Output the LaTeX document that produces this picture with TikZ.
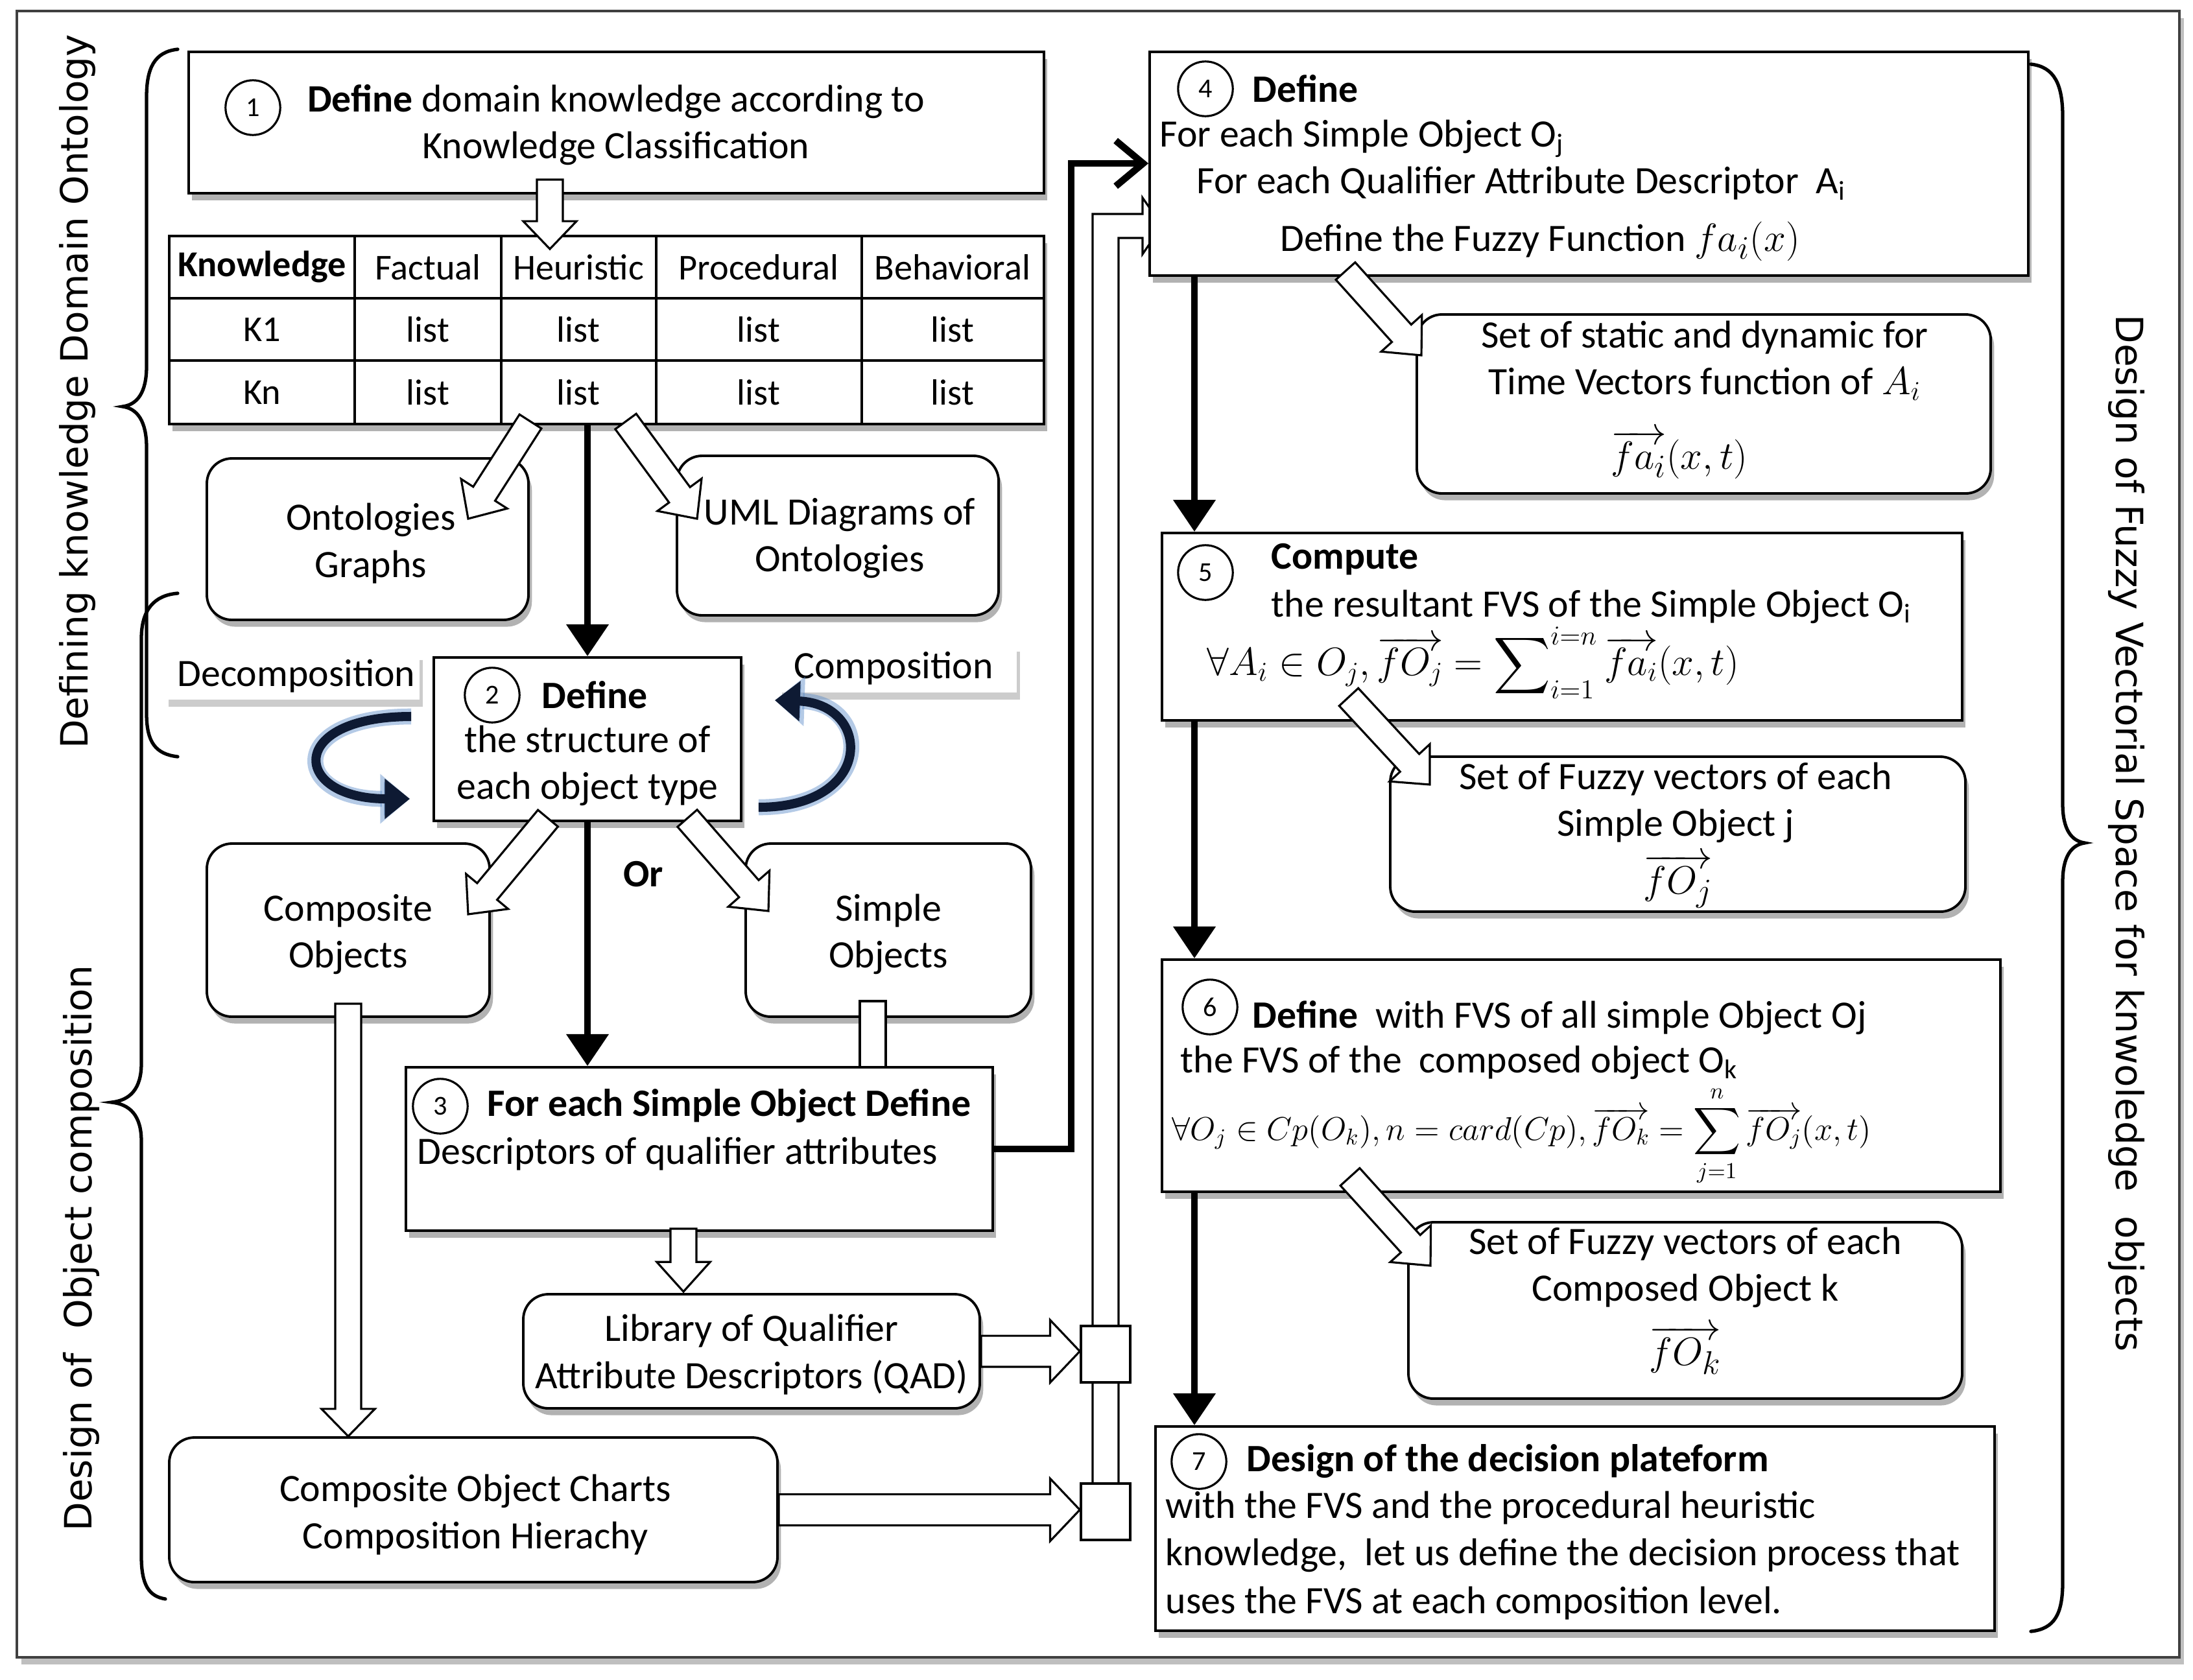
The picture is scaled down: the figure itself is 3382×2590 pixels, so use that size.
\documentclass[tikz,border=0pt]{standalone}
\usepackage{exscale}
\usepackage{fontspec}
\setmainfont{Carlito}
\newfontfamily\sidefont{DejaVu Sans}
\usetikzlibrary{arrows.meta,shadows,fit,calc}
\definecolor{navy}{HTML}{0E1A33}
\definecolor{glowc}{HTML}{5A8BC9}
\newcommand\msz{\fontsize{17}{20.5}\selectfont}
\newcommand\tsz{\fontsize{16}{19}\selectfont}
\newcommand\ssz{\sidefont\fontsize{16.5}{20}\selectfont}
% hollow (outlined) arrow between two named coordinates
\newcommand{\harrow}[5]{%
  \draw[hollow] let \p1=(#1), \p2=(#2), \p3=($(#2)!#5!(#1)$), \n1={atan2(\y2-\y1,\x2-\x1)} in
   ($(\p1)+(\n1-90:#3)$) -- ($(\p3)+(\n1-90:#3)$) -- ($(\p3)+(\n1-90:#4)$) -- (\p2)
   -- ($(\p3)+(\n1+90:#4)$) -- ($(\p3)+(\n1+90:#3)$) -- ($(\p1)+(\n1+90:#3)$) -- cycle;}
\tikzset{
  sq/.style={draw=black, line width=1.1pt, fill=white, inner sep=0pt,
     drop shadow={shadow xshift=1.5pt, shadow yshift=-3pt, opacity=0.3, fill=black}},
  rbox/.style={sq, rounded corners=11pt},
  lbl/.style={fill=white, inner sep=0pt,
     drop shadow={shadow xshift=1.5pt, shadow yshift=-3pt, opacity=0.2, fill=black}},
  txt/.style={inner sep=0pt, font=\msz, align=center, text=black},
  ttxt/.style={inner sep=0pt, font=\tsz, align=center, text=black},
  ltxt/.style={inner sep=0pt, font=\msz, align=left, anchor=west, text=black},
  num/.style={circle, draw=black, line width=0.9pt, minimum size=24pt, inner sep=0pt,
     fill=white, font=\fontsize{12}{12}\selectfont},
  tarrow/.style={line width=3pt, -{Triangle[length=14pt,width=18pt]}},
  barb/.style={line width=3pt, -{Straight Barb[length=12pt,width=20pt]}},
  hollow/.style={draw=black, line width=0.9pt, fill=white, line join=miter},
  bracel/.style={line width=1.5pt, line cap=round},
  curvarrow/.style={line width=4pt, draw=navy, -{Triangle[length=11pt,width=17pt]}},
  glowarrow/.style={line width=7pt, draw=glowc, opacity=0.45, -{Triangle[length=13pt,width=21pt]}},
  sidetxt/.style={inner sep=0pt, font=\ssz},
  outerframe/.style={draw=black!75, line width=1.3pt, inner sep=0pt, fill=white,
     drop shadow={shadow xshift=2pt, shadow yshift=-3pt, opacity=0.25, fill=black}},
}
\begin{document}
\begin{tikzpicture}[x=0.01cm,y=-0.01cm]
\useasboundingbox (0,0) rectangle (3382,2590);
\fill[white] (0,0) rectangle (3382,2590);
\node[outerframe, fit={(26,17)(3361,2556)}] (fr) {};

% ---------- braces and side labels ----------
\draw[bracel] (274,76) .. controls (238,80) and (226,105) .. (226,150) -- (226,565)
  .. controls (226,605) and (212,624) .. (189,627) .. controls (212,630) and (226,650) .. (226,690)
  -- (226,1100) .. controls (226,1145) and (240,1163) .. (274,1167);
\draw[bracel] (274,915) .. controls (238,918) and (218,940) .. (218,985) -- (218,1640)
  .. controls (218,1680) and (200,1697) .. (172,1700) .. controls (200,1703) and (218,1720) .. (218,1760)
  -- (218,2400) .. controls (218,2445) and (230,2462) .. (255,2466);
\draw[bracel] (3132,99) .. controls (3168,103) and (3181,130) .. (3181,180) -- (3181,1240)
  .. controls (3181,1280) and (3195,1297) .. (3215,1300) .. controls (3195,1303) and (3181,1320) .. (3181,1360)
  -- (3181,2440) .. controls (3181,2490) and (3168,2512) .. (3132,2516);
\node[sidetxt, rotate=90] (lt1) at (119,604) {Defining knowledge Domain Ontology};
\node[sidetxt, rotate=90] (lt2) at (125,1925) {Design of\ \ Object composition};
\node[sidetxt, rotate=-90] (rt) at (3279,1285) {Design of Fuzzy Vectorial Space for knwoledge\ \ objects};

% ---------- box 1 ----------
\node[sq, fit={(291,80)(1610,298)}] (b1) {};
\node[num] (n1) at (390,166) {1};
\node[txt] (b1t) at (950,193) {\textbf{Define} domain knowledge according to\\Knowledge Classification};

% ---------- table ----------
\node[sq, line width=1.3pt, fit={(261,364)(1610,654)}] (tbl) {};
\foreach \xx in {547,773,1012,1329} \draw[line width=1.3pt] (\xx,364) -- (\xx,654);
\foreach \yy in {460,556} \draw[line width=1.3pt] (261,\yy) -- (1610,\yy);
\node[ttxt] (h1) at (404,412) {\textbf{Knowledge}};
\node[ttxt] (h2) at (660,412) {Factual};
\node[ttxt] (h3) at (892,412) {Heuristic};
\node[ttxt] (h4) at (1170,412) {Procedural};
\node[ttxt] (h5) at (1469,412) {Behavioral};
\node[ttxt] (r11) at (404,508) {K1};
\node[ttxt] (r21) at (404,605) {Kn};
\foreach \cx/\cn in {660/2,892/3,1170/4,1469/5}{
  \node[ttxt] (r1\cn) at (\cx,508) {list};
  \node[ttxt] (r2\cn) at (\cx,605) {list};
}

% ---------- upper left boxes ----------
\node[rbox, fit={(319,707)(815,956)}] (og) {};
\node[txt] (ogt) at (572,838) {Ontologies\\Graphs};
\node[rbox, fit={(1044,703)(1540,949)}] (uml) {};
\node[txt] (umlt) at (1295,830) {UML Diagrams of\\Ontologies};

% ---------- box 2 ----------
\node[lbl, fit={(255,1007)(647,1079)}] (dl) {};
\node[txt] (dlt) at (457,1043) {Decomposition};
\node[lbl, fit={(1201,994)(1568,1068)}] (cl) {};
\node[txt] (clt) at (1378,1031) {Composition};
\node[sq, fit={(669,1014)(1143,1266)}] (b2) {};
\node[num] (n2) at (759,1072) {2};
\node[txt] (b2a) at (917,1072) {\textbf{Define}};
\node[txt] (b2b) at (906,1181) {the structure of\\each object type};
\draw[glowarrow] ($(b2.west)+(-33,-35)$) .. controls (440,1105) and (450,1232) .. ($(b2.west)+(-35,92)$);
\draw[curvarrow] ($(b2.west)+(-33,-35)$) .. controls (440,1105) and (450,1232) .. ($(b2.west)+(-35,92)$);
\draw[glowarrow] ($(b2.east)+(25,105)$) .. controls (1350,1245) and (1345,1085) .. ($(b2.east)+(50,-60)$);
\draw[curvarrow] ($(b2.east)+(25,105)$) .. controls (1350,1245) and (1345,1085) .. ($(b2.east)+(50,-60)$);
\node[txt] (ort) at (992,1348) {\textbf{Or}};

\node[rbox, fit={(319,1301)(755,1568)}] (co) {};
\node[txt] (cot) at (537,1441) {Composite\\Objects};
\node[rbox, fit={(1150,1301)(1590,1568)}] (so) {};
\node[txt] (sot) at (1370,1441) {Simple\\Objects};

% ---------- box 3 ----------
\draw[hollow] (1326,1544) rectangle (1366,1646);
\node[sq, fit={(626,1646)(1531,1898)}] (b3) {};
\node[num] (n3) at (679,1706) {3};
\node[ltxt] (b3a) at (751,1706) {\textbf{For each Simple Object Define}};
\node[ltxt] (b3b) at (643,1780) {Descriptors of qualifier attributes};

\node[rbox, fit={(807,1996)(1511,2172)}] (lib) {};
\node[txt] (libt) at (1159,2089) {Library of Qualifier\\Attribute Descriptors (QAD)};
\node[rbox, fit={(261,2217)(1199,2440)}] (ch) {};
\node[txt] (cht) at (733,2336) {Composite Object Charts\\Composition Hierachy};

% ---------- pipe and junctions ----------
\coordinate (pipeB) at (1705,2288);
\coordinate (pipeT) at (1792,348);
\draw[hollow] ($(pipeB)+(-20,0)$) |- ($(pipeT)+(-30,-18)$) -- ($(pipeT)+(-30,-43)$) -- (pipeT)
  -- ($(pipeT)+(-30,44)$) -- ($(pipeT)+(-30,19)$) -| ($(pipeB)+(20,0)$);
\node[draw=black, line width=1pt, fill=white, inner sep=0pt, fit={(1667,2045)(1743,2132)}] (j1) {};
\node[draw=black, line width=1pt, fill=white, inner sep=0pt, fit={(1667,2288)(1743,2375)}] (j2) {};

% ---------- right column ----------
\node[sq, fit={(1773,80)(3128,425)}] (b4) {};
\node[num] (n4) at (1859,137) {4};
\node[ltxt] (b4a) at (1931,137) {\textbf{Define}};
\node[ltxt] (b4b) at (1788,214) {For each Simple Object O\textsubscript{j}};
\node[ltxt] (b4c) at (1845,283) {For each Qualifier Attribute Descriptor\ \ A\textsubscript{i}};
\node[ltxt] (b4d) at (1974,372) {Define the Fuzzy Function {\fontsize{19}{22}\selectfont$fa_i(x)$}};

\node[rbox, fit={(2185,485)(3070,761)}] (s1) {};
\node[txt] (s1t) at (2629,556) {Set of static and dynamic for\\Time Vectors function of $A_i$};
\node[txt, font=\fontsize{19}{22}\selectfont] (s1f) at (2590,701) {$\overrightarrow{fa_i}(x,t)$};

\node[sq, fit={(1792,822)(3026,1111)}] (b5) {};
\node[num] (n5) at (1859,883) {5};
\node[ltxt] (b5a) at (1960,863) {\textbf{Compute}};
\node[ltxt] (b5b) at (1960,936) {the resultant FVS of the Simple Object O\textsubscript{i}};
\node[ltxt] (b5c) at (1861,1022) {$\forall A_{i} \in O_{j}, \overrightarrow{fO_{j}} = \displaystyle\sum\nolimits_{i=1}^{i=n} \overrightarrow{fa_{i}}(x,t)$};

\node[rbox, fit={(2144,1167)(3031,1406)}] (s2) {};
\node[txt] (s2t) at (2584,1238) {Set of Fuzzy vectors of each\\Simple Object j};
\node[txt, font=\fontsize{19}{22}\selectfont] (s2f) at (2588,1359) {$\overrightarrow{fO_j}$};

\node[sq, fit={(1792,1480)(3085,1838)}] (b6) {};
\node[num] (n6) at (1866,1553) {6};
\node[ltxt] (b6a) at (1931,1570) {\textbf{Define}\ \ with FVS of all simple Object Oj};
\node[ltxt] (b6b) at (1820,1639) {the FVS of the\ \ composed object O\textsubscript{k}};
\node[ltxt, font=\fontsize{14.5}{17}\selectfont] (b6c) at (1807,1752) {$\forall O_j \in Cp(O_k), n = card(Cp), \overrightarrow{fO_k} = \displaystyle\sum_{j=1}^{n} \overrightarrow{fO_j}(x,t)$};

\node[rbox, fit={(2172,1885)(3026,2157)}] (s3) {};
\node[txt] (s3t) at (2599,1955) {Set of Fuzzy vectors of each\\Composed Object k};
\node[txt, font=\fontsize{19}{22}\selectfont] (s3f) at (2599,2082) {$\overrightarrow{fO_k}$};

\node[sq, fit={(1782,2200)(3076,2515)}] (b7) {};
\node[num] (n7) at (1849,2254) {7};
\node[ltxt] (b7a) at (1922,2254) {\textbf{Design of the decision plateform}};
\node[ltxt, font=\fontsize{17}{21}\selectfont] (b7b) at (1797,2399) {with the FVS and the procedural heuristic\\knowledge,\ \ let us define the decision process that\\uses the FVS at each composition level.};

% ---------- solid black connectors ----------
\coordinate (spine) at (1842,0);
\coordinate (bend) at (1652,252);
\draw[tarrow] (b2.north |- tbl.south) -- (b2.north);
\draw[tarrow] (b2.south) -- (b2.south |- b3.north);
\draw[tarrow] (b4.south -| spine) -- (b5.north -| spine);
\draw[tarrow] (b5.south -| spine) -- (b6.north -| spine);
\draw[tarrow] (b6.south -| spine) -- (b7.north -| spine);
\draw[barb] (b3.east) -| (bend) -- (bend -| b4.west);

% ---------- hollow connectors ----------
\coordinate (a1s) at (848,277);  \coordinate (a1e) at (848,384);
\harrow{a1s}{a1e}{5.7pt}{11.7pt}{12.2pt}
\coordinate (a2s) at (818,650);  \coordinate (a2e) at (722,800);
\harrow{a2s}{a2e}{5.7pt}{12pt}{13pt}
\coordinate (a3s) at (965,650);  \coordinate (a3e) at (1075,800);
\harrow{a3s}{a3e}{5.7pt}{12pt}{13pt}
\coordinate (a4s) at (845,1262); \coordinate (a4e) at (722,1410);
\harrow{a4s}{a4e}{5.7pt}{12pt}{13pt}
\coordinate (a5s) at (1060,1262); \coordinate (a5e) at (1185,1405);
\harrow{a5s}{a5e}{5.7pt}{12pt}{13pt}
\coordinate (a6s) at (537,1548); \coordinate (a6e) at (co.south |- ch.north);
\harrow{a6s}{a6e}{5.7pt}{11.7pt}{12pt}
\coordinate (a7s) at (1054,1895); \coordinate (a7e) at (1054,1992);
\harrow{a7s}{a7e}{5.7pt}{11.7pt}{13pt}
\coordinate (a8e) at (lib.east -| j1.west);
\harrow{lib.east}{a8e}{6.8pt}{13.7pt}{13pt}
\coordinate (a9e) at (ch.east -| j2.west);
\harrow{ch.east}{a9e}{6.8pt}{13.7pt}{13pt}
\coordinate (a10s) at (2075,418); \coordinate (a10e) at (2192,548);
\harrow{a10s}{a10e}{5.7pt}{12pt}{13pt}
\coordinate (a11s) at (2080,1075); \coordinate (a11e) at (2205,1210);
\harrow{a11s}{a11e}{5.7pt}{12pt}{13pt}
\coordinate (a12s) at (2082,1815); \coordinate (a12e) at (2206,1952);
\harrow{a12s}{a12e}{5.7pt}{12pt}{13pt}
\end{tikzpicture}
\end{document}
